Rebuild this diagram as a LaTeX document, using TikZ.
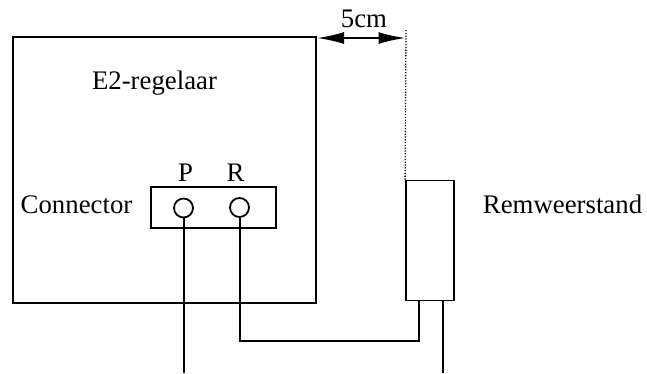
\documentclass[tikz,border=0pt]{standalone}
\usepackage{fontspec}
\setmainfont{Liberation Serif}
\usetikzlibrary{arrows.meta}
\tikzset{
  line/.style={draw=black,line width=2pt},
  lbl/.style={inner sep=0pt,font=\fontsize{26.8}{30}\selectfont,anchor=base},
  pin/.style={circle,draw=black,line width=1.8pt,minimum size=19pt,inner sep=0pt},
  blockbox/.style={draw=black,line width=1.8pt,inner sep=0pt}
}
\begin{document}
\begin{tikzpicture}[x=1pt,y=-1pt]
\useasboundingbox (0,0) rectangle (647,373);
\node[blockbox,minimum width=303pt,minimum height=266pt] (reg) at (164.5,170) {};
\node[blockbox,minimum width=125pt,minimum height=41pt] (conn) at (213.5,207.5) {};
\node[pin] (p) at (183.5,208) {};
\node[pin] (r) at (239.5,207.5) {};
\node[blockbox,minimum width=48pt,minimum height=120pt] (rem) at (430,240.5) {};
\node[lbl] (t1) at (154.5,89) {E2-regelaar};
\node[lbl] (t2) at (185.5,181) {P};
\node[lbl] (t3) at (235.5,181) {R};
\node[lbl] (t4) at (76.5,213) {Connector};
\node[lbl] (t5) at (562.5,213) {Remweerstand};
\node[lbl] (t6) at (364,27) {5cm};
\coordinate (dtop) at (406,30);
\coordinate (arrR) at (405.5,38);
\coordinate (arrL) at (317,38);
\coordinate (pEnd) at (183.5,373);
\coordinate (rA) at (239.5,341);
\coordinate (rB) at (419,341);
\coordinate (rC) at (419,300.5);
\coordinate (qA) at (443,300.5);
\coordinate (qB) at (443,373);
\draw[black,line width=1.3pt,dash pattern=on 1.2pt off 1.6pt] (dtop) -- (rem.north west);
\draw[line,{Latex[length=27pt,width=12pt]}-{Latex[length=27pt,width=12pt]}] (arrL) -- (arrR);
\draw[line] (p.south) -- (pEnd);
\draw[line] (r.south) -- (rA) -- (rB) -- (rC);
\draw[line] (qA) -- (qB);
\end{tikzpicture}
\end{document}
